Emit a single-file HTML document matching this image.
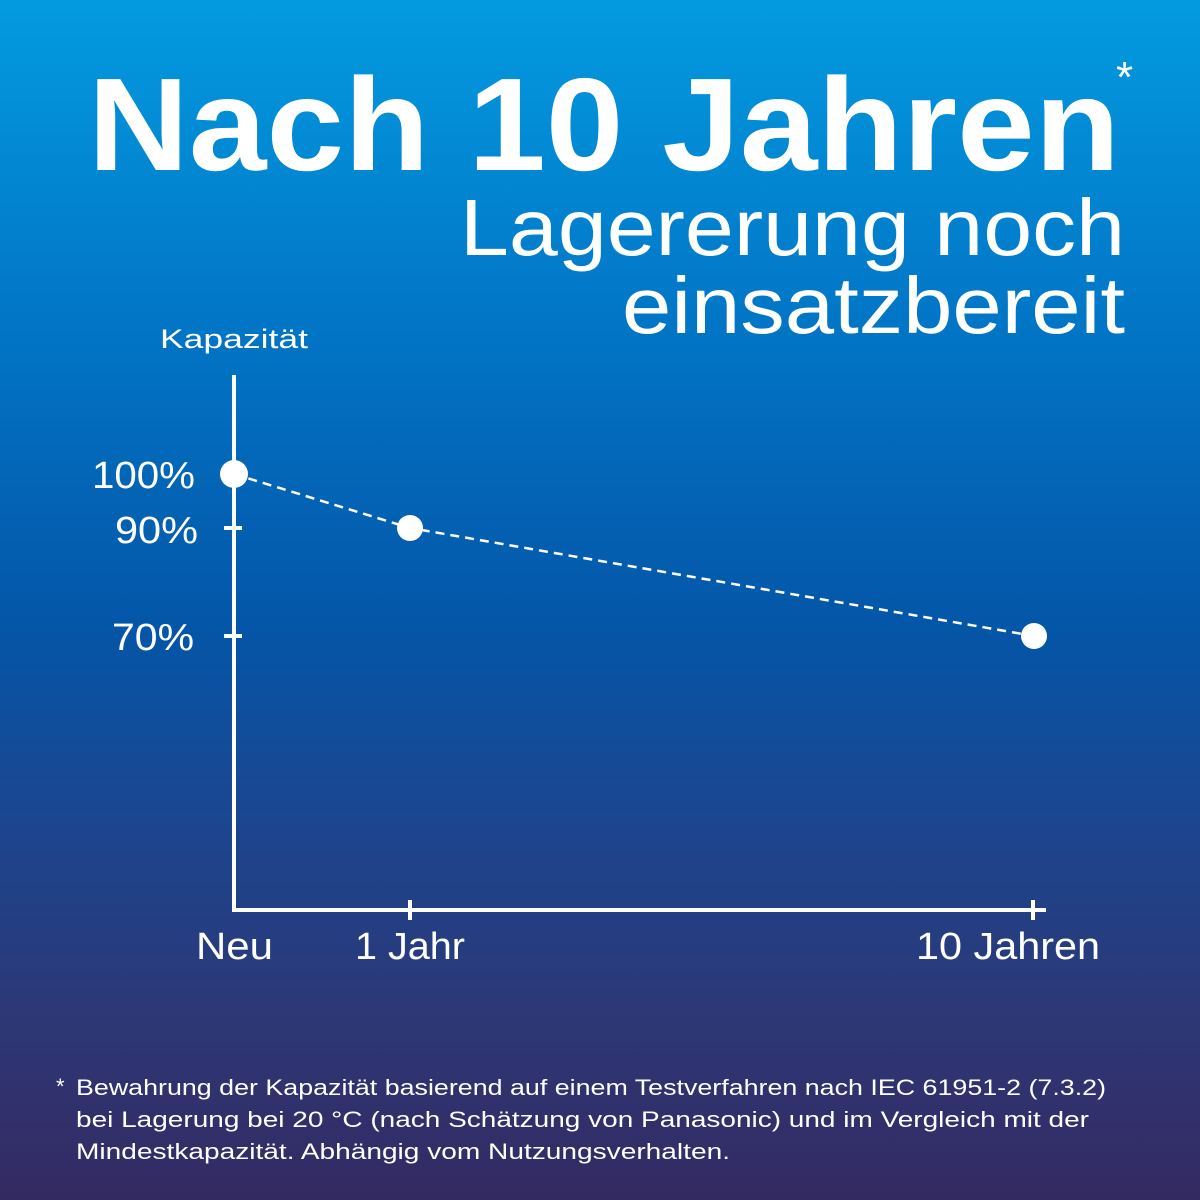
<!DOCTYPE html>
<html><head><meta charset="utf-8"><style>
html,body{margin:0;padding:0;width:1200px;height:1200px;overflow:hidden}
body{background:linear-gradient(180deg,#039be0 0%,#0278c8 25%,#0456a8 52%,#1b4690 68%,#2d3776 85%,#342a62 100%)}
svg{display:block}
text{font-family:"Liberation Sans",sans-serif;fill:#fff}
</style></head><body>
<svg width="1200" height="1200" viewBox="0 0 1200 1200">
<text x="88" y="170" font-size="132" font-weight="bold" textLength="1032" lengthAdjust="spacingAndGlyphs">Nach 10 Jahren</text>
<text x="1116" y="92" font-size="44">*</text>
<text x="1125" y="255" font-size="80" font-weight="300" text-anchor="end" textLength="665" lengthAdjust="spacingAndGlyphs">Lagererung noch</text>
<text x="1125" y="333" font-size="80" font-weight="300" text-anchor="end" textLength="503" lengthAdjust="spacingAndGlyphs">einsatzbereit</text>
<text x="160" y="348" font-size="27" textLength="148" lengthAdjust="spacingAndGlyphs">Kapazität</text>
<g stroke="#fff" stroke-width="4" fill="none">
<line x1="234" y1="375" x2="234" y2="912"/>
<line x1="232" y1="910" x2="1046" y2="910"/>
<line x1="410" y1="900" x2="410" y2="920"/>
<line x1="1033" y1="900" x2="1033" y2="920"/>
<line x1="224" y1="528" x2="242" y2="528"/>
<line x1="224" y1="636" x2="242" y2="636"/>
</g>
<polyline points="234,474 410,528 1034,636" fill="none" stroke="#fff" stroke-width="2.5" stroke-dasharray="9,6"/>
<circle cx="234" cy="474" r="14" fill="#fff"/>
<circle cx="410" cy="528" r="13" fill="#fff"/>
<circle cx="1034" cy="636" r="13" fill="#fff"/>
<text x="92" y="488" font-size="38" textLength="103" lengthAdjust="spacingAndGlyphs">100%</text>
<text x="115" y="543" font-size="38" textLength="83" lengthAdjust="spacingAndGlyphs">90%</text>
<text x="112" y="650" font-size="38" textLength="82" lengthAdjust="spacingAndGlyphs">70%</text>
<text x="196" y="959" font-size="38" textLength="77" lengthAdjust="spacingAndGlyphs">Neu</text>
<text x="355" y="959" font-size="38" textLength="110" lengthAdjust="spacingAndGlyphs">1 Jahr</text>
<text x="916" y="959" font-size="38" textLength="184" lengthAdjust="spacingAndGlyphs">10 Jahren</text>
<g font-size="22">
<text x="56" y="1094">*</text>
<text x="76" y="1095" textLength="1030" lengthAdjust="spacingAndGlyphs">Bewahrung der Kapazität basierend auf einem Testverfahren nach IEC 61951-2 (7.3.2)</text>
<text x="76" y="1127" textLength="1013" lengthAdjust="spacingAndGlyphs">bei Lagerung bei 20 °C (nach Schätzung von Panasonic) und im Vergleich mit der</text>
<text x="76" y="1159" textLength="654" lengthAdjust="spacingAndGlyphs">Mindestkapazität. Abhängig vom Nutzungsverhalten.</text>
</g>
</svg>
</body></html>
